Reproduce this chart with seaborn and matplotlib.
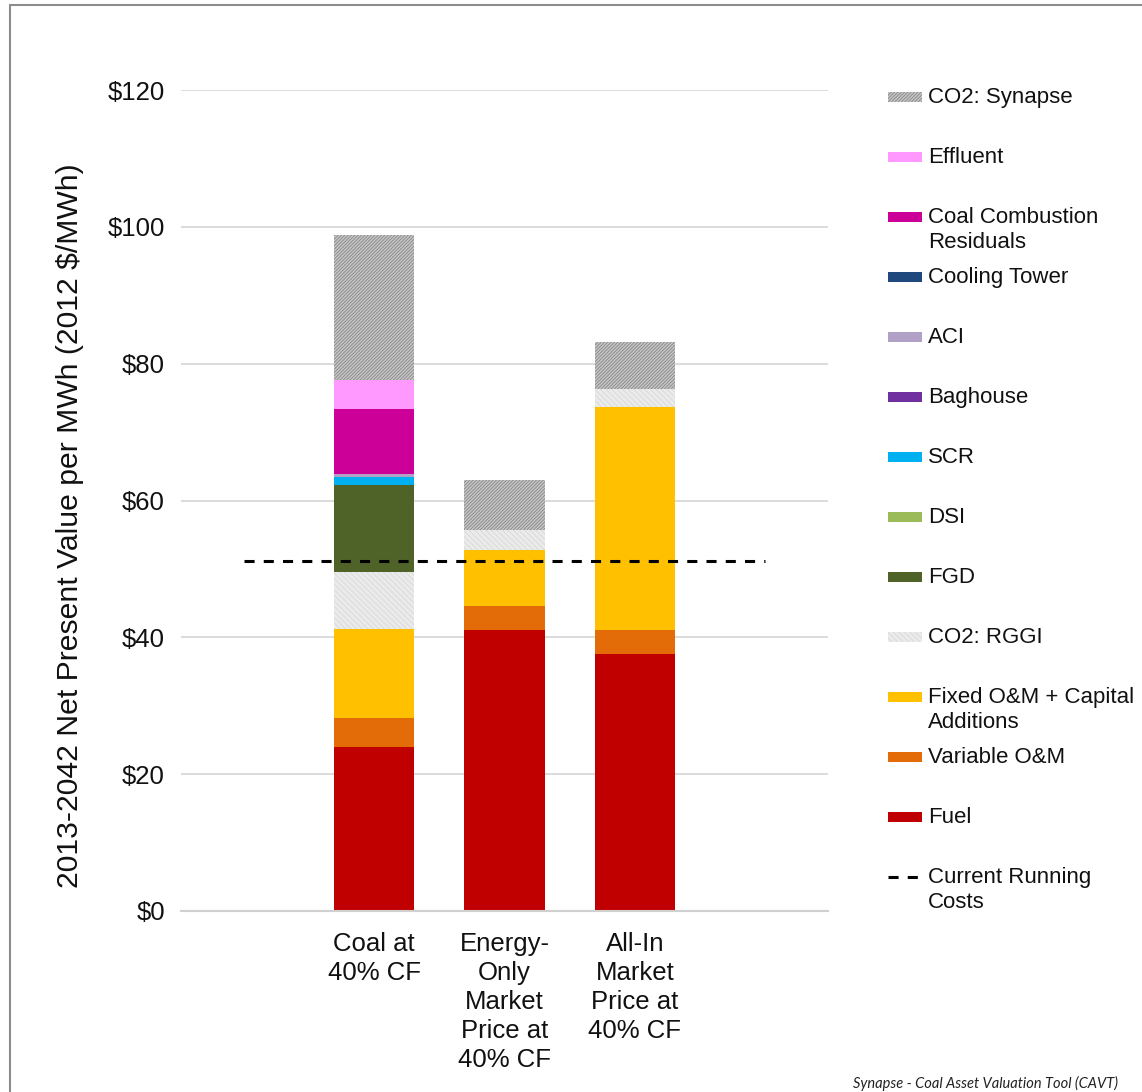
import matplotlib
matplotlib.use("Agg")
import matplotlib.pyplot as plt
import seaborn as sns
import numpy as np
from matplotlib.patches import Rectangle
from matplotlib.lines import Line2D
from matplotlib.ticker import FuncFormatter

# ---- data (2012 $/MWh, NPV 2013-2042) ----
categories = ["Coal at\n40% CF",
              "Energy-\nOnly\nMarket\nPrice at\n40% CF",
              "All-In\nMarket\nPrice at\n40% CF"]

fuel = [24.0, 41.1, 37.5]
variable_om = [4.2, 3.5, 3.6]
fixed_om_capital = [13.0, 8.2, 32.6]
co2_rggi = [8.4, 2.9, 2.6]
fgd = [12.7, 0.0, 0.0]
dsi = [0.0, 0.0, 0.0]
scr = [1.1, 0.0, 0.0]
baghouse = [0.0, 0.0, 0.0]
aci = [0.5, 0.0, 0.0]
cooling_tower = [0.0, 0.0, 0.0]
coal_combustion_residuals = [9.5, 0.0, 0.0]
effluent = [4.2, 0.0, 0.0]
co2_synapse = [21.2, 7.3, 6.9]

current_running_costs = 51.2

# stacking order, bottom to top: (label, values, face, hatch, hatch colour)
components = [
    ("Fuel", fuel, "#C00000", None, None),
    ("Variable O&M", variable_om, "#E36C09", None, None),
    ("Fixed O&M + Capital\nAdditions", fixed_om_capital, "#FFC000", None, None),
    ("CO2: RGGI", co2_rggi, "#EBEBEB", "\\\\\\\\\\\\", "#DADADA"),
    ("FGD", fgd, "#4F6228", None, None),
    ("DSI", dsi, "#9BBB59", None, None),
    ("SCR", scr, "#00B0F0", None, None),
    ("Baghouse", baghouse, "#7030A0", None, None),
    ("ACI", aci, "#B2A1C7", None, None),
    ("Cooling Tower", cooling_tower, "#1F497D", None, None),
    ("Coal Combustion\nResiduals", coal_combustion_residuals, "#CC0099", None, None),
    ("Effluent", effluent, "#FF99FF", None, None),
    ("CO2: Synapse", co2_synapse, "#C8C8C8", "//////////", "#8C8C8C"),
]

sns.set_style("white")
plt.rcParams["font.family"] = ["Liberation Sans", "DejaVu Sans"]
plt.rcParams["hatch.linewidth"] = 0.7

W, H = 1142, 1092
fig = plt.figure(figsize=(W / 100, H / 100), dpi=100)
ax = fig.add_axes([181 / W, 1 - 911 / H, 647 / W, (911 - 90) / H])

bottom = np.zeros(len(categories))
for label, vals, face, hatch, hcol in components:
    vals = np.asarray(vals, dtype=float)
    kw = dict(linewidth=0)
    if hatch:
        kw.update(hatch=hatch, edgecolor=hcol)
    else:
        kw.update(edgecolor=face)
    sns.barplot(x=categories, y=vals, order=categories, bottom=bottom,
                color=face, saturation=1, width=0.615, errorbar=None,
                ax=ax, **kw)
    bottom += vals

# current running cost reference line
ax.plot([-1.0, 3.0], [current_running_costs] * 2, color="black",
        lw=2.2, ls=(0, (3.3, 3.0)), zorder=5)

ax.set_xlim(-1.48, 3.48)
ax.set_ylim(0, 120)
ax.set_yticks(np.arange(0, 121, 20))
ax.yaxis.set_major_formatter(FuncFormatter(lambda v, p: f"${v:.0f}"))
ax.yaxis.grid(True, color="#D9D9D9", lw=1.3)
ax.set_axisbelow(True)
for s in ["top", "right", "left"]:
    ax.spines[s].set_visible(False)
ax.spines["bottom"].set_color("#D0D0D0")
ax.spines["bottom"].set_linewidth(1.5)
ax.tick_params(axis="y", length=0, pad=11.5, labelsize=18.5, labelcolor="#111111")
ax.tick_params(axis="x", length=0, pad=15, labelsize=18.5, labelcolor="#111111")
for t in ax.get_xticklabels():
    t.set_linespacing(1.27)
ax.set_xlabel("")
ax.set_ylabel("2013-2042 Net Present Value per MWh (2012 $/MWh)",
              fontsize=21.7, color="#111111")
ax.yaxis.set_label_coords(-0.150, 0.469)

# legend, drawn top to bottom in reverse stacking order
def fx(px):
    return px / W

def fy(py):
    return 1 - py / H

legend_items = list(reversed(components))
for i, (label, vals, face, hatch, hcol) in enumerate(legend_items):
    yc = 97 + 60 * i
    kw = dict(facecolor=face, linewidth=0, transform=fig.transFigure)
    if hatch:
        kw.update(hatch=hatch, edgecolor=hcol)
    else:
        kw.update(edgecolor=face)
    fig.add_artist(Rectangle((fx(888), fy(yc + 5)), 34 / W, 10 / H, **kw))
    fig.text(fx(928), fy(yc - 10), label, fontsize=16, va="top", ha="left",
             linespacing=1.28, color="#111111")

yc = 97 + 60 * len(legend_items)
fig.add_artist(Line2D([fx(888), fx(922)], [fy(yc)] * 2, color="black", lw=2.2,
                      ls=(0, (3.3, 3.0)), transform=fig.transFigure))
fig.text(fx(928), fy(yc - 10), "Current Running\nCosts", fontsize=16,
         va="top", ha="left", linespacing=1.28, color="#111111")

# outer frame
frame_kw = dict(color="#8C8C8C", lw=1.5, transform=fig.transFigure)
fig.add_artist(Line2D([fx(9.5), fx(9.5)], [0, fy(5)], **frame_kw))
fig.add_artist(Line2D([fx(9.5), 1.0], [fy(5), fy(5)], **frame_kw))

fig.text(fx(853), fy(1088), "Synapse - Coal Asset Valuation Tool (CAVT)",
         fontsize=10.5, style="italic", family=["Lato", "DejaVu Sans"],
         va="baseline", ha="left", color="#222222")

fig.savefig("out.png", dpi=100, facecolor="white")
